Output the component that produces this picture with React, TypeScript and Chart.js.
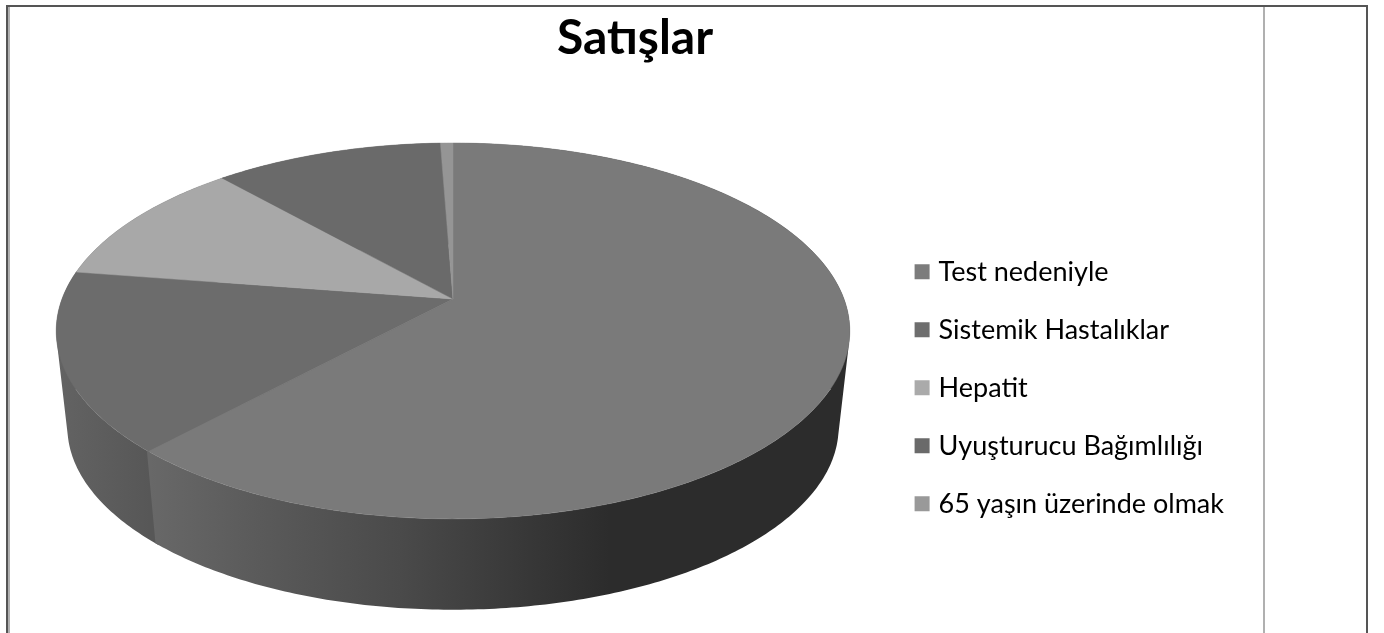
import React, { useEffect, useRef } from "react";
import { Chart, registerables } from "chart.js";

Chart.register(...registerables);

const TITLE = "Satışlar";
const categories = [
  "Test nedeniyle",
  "Sistemik Hastalıklar",
  "Hepatit",
  "Uyuşturucu Bağımlılığı",
  "65 yaşın üzerinde olmak",
];
const values = [62, 15.5, 11, 11, 0.6];
const faceColors = ["#7a7a7a", "#6c6c6c", "#a8a8a8", "#6a6a6a", "#959595"];
const legendColors = ["#7c7c7c", "#6e6e6e", "#aaaaaa", "#6a6a6a", "#999999"];

// Perspective of the disc: the apex is not at the centre of the projected ellipse.
const CX = 453;
const K = 0.17;
const TOP = { cy: 299, a: 391, b: 182.5 };
const BOTTOM = { cy: 396, a: 380, b: 177.4 };

function project(face: { cy: number; a: number; b: number }, t: number) {
  const u = Math.cos(t);
  const v = Math.sin(t);
  const w = 1 - K * v;
  return { x: CX + (face.a * u) / w, y: face.cy + (face.b * v) / w };
}

function sideGradient(ctx: CanvasRenderingContext2D, index: number) {
  const g = ctx.createLinearGradient(57, 0, 851, 0);
  const stop = (x: number, c: string) => g.addColorStop((x - 57) / 794, c);
  if (index === 0) {
    stop(150, "#686868");
    stop(260, "#5a5a5a");
    stop(400, "#4a4a4a");
    stop(530, "#373737");
    stop(610, "#2c2c2c");
    stop(851, "#2c2c2c");
  } else {
    stop(57, "#636363");
    stop(150, "#575757");
  }
  return g;
}

const perspectivePie = {
  id: "perspectivePie",
  beforeDraw(chart: any) {
    const ctx = chart.ctx as CanvasRenderingContext2D;
    ctx.save();
    ctx.fillStyle = "#ffffff";
    ctx.fillRect(0, 0, chart.width, chart.height);
    // surrounding table rules of the page
    ctx.fillStyle = "#555555";
    ctx.fillRect(6, 5, 1362, 2);
    ctx.fillRect(6, 5, 2, 628);
    ctx.fillRect(1366, 5, 2, 628);
    ctx.fillStyle = "#b0b0b0";
    ctx.fillRect(8, 7, 2, 626);
    ctx.fillRect(1263, 7, 2, 626);
    ctx.restore();
  },
  beforeDatasetDraw(chart: any) {
    const ctx = chart.ctx as CanvasRenderingContext2D;
    const arcs = chart.getDatasetMeta(0).data as any[];
    ctx.save();
    // side wall: one union of consistently wound quads per slice,
    // each overlapping its neighbour a little so no seam shows through
    for (let i = arcs.length - 1; i >= 0; i--) {
      const startAngle = arcs[i].startAngle - 0.006;
      const endAngle = arcs[i].endAngle + 0.006;
      const steps = Math.max(2, Math.ceil((endAngle - startAngle) * 80));
      ctx.beginPath();
      for (let s = 0; s < steps; s++) {
        const t0 = startAngle + ((endAngle - startAngle) * s) / steps;
        const t1 = startAngle + ((endAngle - startAngle) * (s + 1)) / steps;
        const quad = [project(TOP, t0), project(TOP, t1), project(BOTTOM, t1), project(BOTTOM, t0)];
        let area = 0;
        quad.forEach((p, n) => {
          const q = quad[(n + 1) % 4];
          area += p.x * q.y - q.x * p.y;
        });
        if (area < 0) quad.reverse();
        quad.forEach((p, n) => (n === 0 ? ctx.moveTo(p.x, p.y) : ctx.lineTo(p.x, p.y)));
        ctx.closePath();
      }
      ctx.fillStyle = sideGradient(ctx, i);
      ctx.fill();
    }
    // top face
    arcs.forEach((arc, i) => {
      const { startAngle, endAngle } = arc;
      const steps = Math.max(4, Math.ceil((endAngle - startAngle) * 80));
      ctx.beginPath();
      ctx.moveTo(CX, TOP.cy);
      for (let s = 0; s <= steps; s++) {
        const p = project(TOP, startAngle + ((endAngle - startAngle) * s) / steps);
        ctx.lineTo(p.x, p.y);
      }
      ctx.closePath();
      ctx.fillStyle = faceColors[i];
      ctx.strokeStyle = faceColors[i];
      ctx.lineWidth = 0.5;
      ctx.fill();
      ctx.stroke();
    });
    ctx.restore();
    return false; // the arcs have been painted in perspective
  },
};

export default function App() {
  const ref = useRef<HTMLCanvasElement>(null);
  useEffect(() => {
    const chart = new Chart(ref.current!, {
      type: "pie",
      plugins: [perspectivePie as any],
      data: {
        labels: categories,
        datasets: [{ data: values, backgroundColor: faceColors, borderWidth: 0 }],
      },
      options: {
        responsive: false,
        animation: false,
        layout: { padding: { left: 36, right: 150, top: 0, bottom: 0 } },
        plugins: {
          tooltip: { enabled: false },
          title: {
            display: true,
            text: TITLE,
            color: "#000000",
            font: { family: "Lato", size: 48, weight: "bold" },
            padding: { top: 10, bottom: 75 },
          },
          legend: {
            display: true,
            position: "right",
            fullSize: false,
            labels: {
              color: "#1a1a1a",
              font: { family: "Lato", size: 27 },
              boxWidth: 6,
              boxHeight: 6,
              padding: 31,
              generateLabels: () =>
                categories.map((text, i) => ({
                  text,
                  fillStyle: legendColors[i],
                  strokeStyle: legendColors[i],
                  lineWidth: 9,
                  hidden: false,
                  index: i,
                })),
            },
          },
        },
      } as any,
    });
    return () => chart.destroy();
  }, []);
  return (
    <canvas
      ref={ref}
      width={1384}
      height={633}
      style={{ position: "absolute", left: 0, top: 0, display: "block", filter: "blur(0.6px)" }}
    />
  );
}
